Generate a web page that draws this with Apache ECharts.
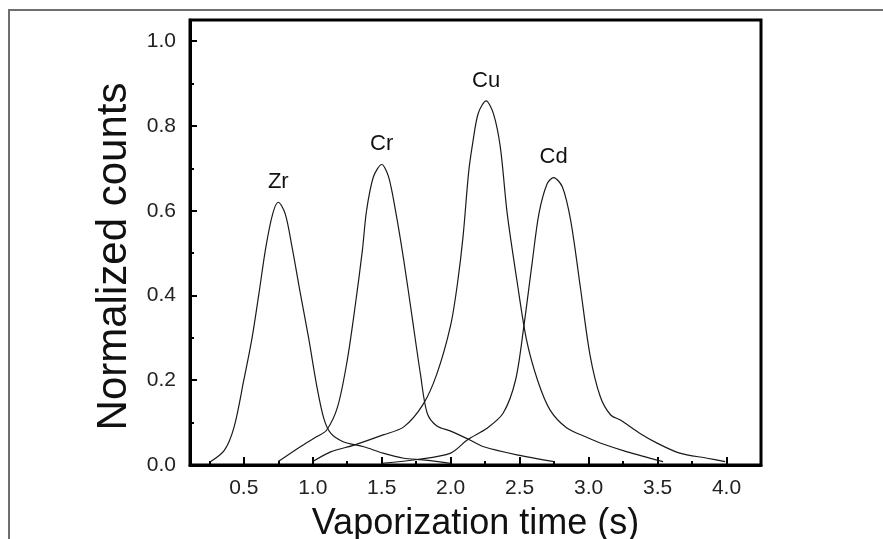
<!DOCTYPE html>
<html>
<head>
<meta charset="utf-8">
<script src="https://cdn.jsdelivr.net/npm/echarts@6/dist/echarts.min.js"></script>
<style>
  html, body { margin: 0; padding: 0; background: #fff; }
  #chart { width: 883px; height: 539px; }
</style>
</head>
<body>
<div id="chart"></div>
<script>
// peak names
const names = ['Zr', 'Cr', 'Cu', 'Cd']

// vaporization time (s) and normalized counts
const zrX = [0.26, 0.36, 0.43, 0.5, 0.56, 0.61, 0.66, 0.71, 0.75, 0.80, 0.85, 0.91, 0.97, 1.03, 1.08, 1.13, 1.22, 1.37, 1.51, 1.66, 1.80, 2.0]
const zrY = [0.008, 0.035, 0.09, 0.2, 0.30, 0.405, 0.514, 0.593, 0.62, 0.593, 0.514, 0.405, 0.30, 0.185, 0.11, 0.075, 0.055, 0.043, 0.028, 0.016, 0.012, 0.004]

const crX = [0.75, 0.91, 1.03, 1.10, 1.18, 1.25, 1.31, 1.36, 1.39, 1.44, 1.50, 1.55, 1.60, 1.66, 1.72, 1.78, 1.83, 1.90, 2.0, 2.14, 2.24, 2.48, 2.75]
const crY = [0.008, 0.043, 0.067, 0.082, 0.137, 0.247, 0.381, 0.507, 0.60, 0.68, 0.709, 0.68, 0.60, 0.483, 0.35, 0.216, 0.122, 0.092, 0.08, 0.059, 0.043, 0.024, 0.008]

const cuX = [1.0, 1.13, 1.30, 1.51, 1.66, 1.80, 1.90, 2.0, 2.05, 2.09, 2.13, 2.16, 2.20, 2.257, 2.31, 2.36, 2.41, 2.48, 2.55, 2.63, 2.72, 2.84, 2.99, 3.10, 3.28, 3.54]
const cuY = [0.008, 0.031, 0.047, 0.071, 0.09, 0.143, 0.215, 0.33, 0.43, 0.54, 0.69, 0.76, 0.83, 0.859, 0.829, 0.75, 0.593, 0.436, 0.295, 0.20, 0.13, 0.088, 0.065, 0.05, 0.031, 0.008]

const cdX = [1.5, 1.76, 2.0, 2.12, 2.26, 2.38, 2.47, 2.53, 2.59, 2.64, 2.70, 2.746, 2.81, 2.87, 2.94, 3.01, 3.085, 3.16, 3.23, 3.37, 3.50, 3.66, 3.86, 3.99]
const cdY = [0.004, 0.013, 0.028, 0.059, 0.086, 0.122, 0.20, 0.326, 0.475, 0.593, 0.664, 0.678, 0.656, 0.577, 0.42, 0.26, 0.161, 0.118, 0.106, 0.075, 0.051, 0.028, 0.016, 0.008]

// tick positions
const xMajor = [0.5, 1.0, 1.5, 2.0, 2.5, 3.0, 3.5, 4.0]
const xMinor = [0.25, 0.75, 1.25, 1.75, 2.25, 2.75, 3.25, 3.75]
const yMajor = [0.0, 0.2, 0.4, 0.6, 0.8, 1.0]
const yMinor = [0.1, 0.3, 0.5, 0.7, 0.9]

const FONT = '"Liberation Sans", Arial, sans-serif'
const xs = [zrX, crX, cuX, cdX]
const ys = [zrY, crY, cuY, cdY]

const chart = echarts.init(document.getElementById('chart'))

const series = names.map((name, i) => ({
  name,
  type: 'line',
  xAxisIndex: 0,
  yAxisIndex: 0,
  smooth: 0.3,
  symbol: 'none',
  lineStyle: { color: '#1a1a1a', width: 1.2 },
  data: xs[i].map((x, j) => [x, ys[i][j]]),
  markPoint: {
    symbol: 'rect',
    symbolSize: 1,
    itemStyle: { color: 'rgba(0,0,0,0)' },
    data: [{ type: 'max' }],
    label: {
      show: true,
      position: 'top',
      distance: 9,
      formatter: name,
      color: '#111',
      fontSize: 22,
      fontFamily: FONT,
    },
  },
}))

const baseX = {
  type: 'value',
  min: 0.11,
  max: 4.25,
  position: 'bottom',
  splitLine: { show: false },
}
const baseY = {
  type: 'value',
  min: 0,
  max: 1.05,
  position: 'left',
  splitLine: { show: false },
}

chart.setOption({
  animation: false,
  backgroundColor: '#fff',
  grid: {
    left: 190, right: 122, top: 20, bottom: 74,
    outerBoundsMode: 'none',
    show: true, borderColor: '#000', borderWidth: 3,
  },
  graphic: [{
    type: 'rect',
    shape: { x: 9, y: 10, width: 1000, height: 1000 },
    style: { fill: 'none', stroke: '#6e6e6e', lineWidth: 2 },
    silent: true,
  }],
  xAxis: [
    {
      ...baseX,
      name: 'Vaporization time (s)',
      nameLocation: 'middle',
      nameGap: 41,
      nameTextStyle: { fontSize: 36, color: '#111', fontFamily: FONT },
      axisLine: { lineStyle: { color: '#000', width: 3 } },
      axisTick: { inside: true, length: 8, lineStyle: { color: '#000', width: 2 }, customValues: xMajor },
      axisLabel: {
        customValues: xMajor,
        formatter: v => v.toFixed(1),
        fontSize: 21, color: '#222', fontFamily: FONT, margin: 13,
      },
    },
    {
      ...baseX,
      axisLine: { show: false },
      axisTick: { inside: true, length: 4, lineStyle: { color: '#000', width: 2 }, customValues: xMinor },
      axisLabel: { show: false },
    },
  ],
  yAxis: [
    {
      ...baseY,
      name: 'Normalized counts',
      nameLocation: 'middle',
      nameGap: 46,
      nameTextStyle: { fontSize: 42, color: '#111', fontFamily: FONT, padding: [0, 28, 0, 0] },
      axisLine: { lineStyle: { color: '#000', width: 3 } },
      axisTick: { inside: true, length: 7, lineStyle: { color: '#000', width: 2 }, customValues: yMajor },
      axisLabel: {
        customValues: yMajor,
        formatter: v => v.toFixed(1),
        fontSize: 21, color: '#222', fontFamily: FONT, margin: 14,
      },
    },
    {
      ...baseY,
      axisLine: { show: false },
      axisTick: { inside: true, length: 4, lineStyle: { color: '#000', width: 2 }, customValues: yMinor },
      axisLabel: { show: false },
    },
  ],
  series,
})
</script>
</body>
</html>
